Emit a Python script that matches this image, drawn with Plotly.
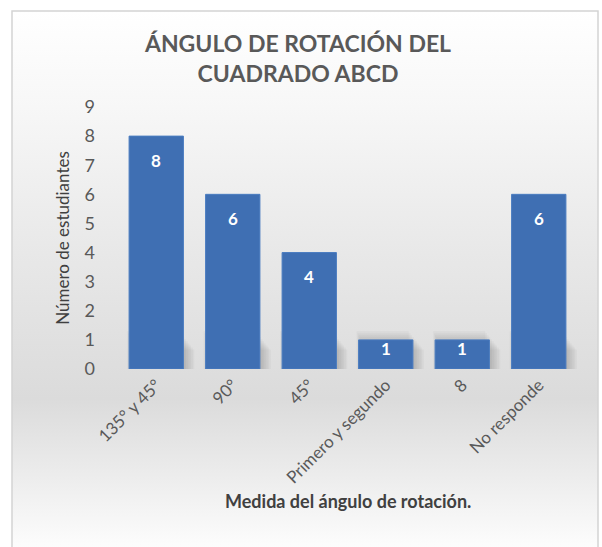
import base64
import plotly.graph_objects as go

# Survey results: measured rotation angle of square ABCD
categories = ["135° y 45°", "90°", "45°", "Primero y segundo", "8", "No responde"]
students = [8, 6, 4, 1, 1, 6]
y_ticks = list(range(0, 10))

chart_title = "ÁNGULO DE ROTACIÓN DEL<br>CUADRADO ABCD"
x_title = "Medida del ángulo de rotación."
y_title = "Número de estudiantes"

W, H = 602, 547
ML, MR, MT, MB = 118, 25, 107, 178
PW, PH = W - ML - MR, H - MT - MB

BAR_COLOR = "#3f6fb3"
TEXT_GRAY = "#595959"
FONT = "Lato"


def px_to_paper_x(px):
    return (px - ML) / PW


def px_to_paper_y(py):
    return (H - MB - py) / PH


# soft vertical gradient for the chart area background
stops = [(0, "#ffffff"), (0.18, "#f7f7f7"), (0.45, "#e8e8e8"),
         (0.72, "#dbdbdb"), (0.87, "#ededed"), (1.0, "#fdfdfd")]
stop_xml = "".join(f'<stop offset="{o}" stop-color="{c}"/>' for o, c in stops)
svg = ('<svg xmlns="http://www.w3.org/2000/svg" width="100" height="100" '
       'viewBox="0 0 100 100" preserveAspectRatio="none"><defs>'
       '<linearGradient id="g" x1="0" y1="0" x2="0" y2="1">' + stop_xml +
       '</linearGradient></defs><rect width="100" height="100" fill="url(#g)"/></svg>')
bg_src = "data:image/svg+xml;base64," + base64.b64encode(svg.encode()).decode()

box_x0, box_x1 = px_to_paper_x(12), px_to_paper_x(598)
box_y1, box_y0 = px_to_paper_y(11), px_to_paper_y(H + 2)

fig = go.Figure()
fig.add_trace(go.Bar(
    x=categories,
    y=students,
    marker=dict(color=BAR_COLOR, line=dict(color="#4a7cc0", width=1)),
    width=0.71,
    hoverinfo="x+y",
))

# value labels inside the top of each bar
annotations = []
for i, v in enumerate(students):
    annotations.append(dict(
        x=i, y=v, xref="x", yref="y", text=f"<b>{v}</b>", showarrow=False,
        yanchor="middle", yshift=-24 if v > 1 else -9,
        font=dict(family=FONT, size=17, color="white"),
    ))

# horizontal axis title, placed below the slanted category labels
annotations.append(dict(
    x=0.5, y=px_to_paper_y(501), xref="paper", yref="paper",
    text=f"<b>{x_title}</b>", showarrow=False,
    xanchor="center", yanchor="middle",
    font=dict(family=FONT, size=18, color="#404040"),
))

# blurred cast shadow at the foot of each bar
shapes = []
for i, v in enumerate(students):
    top = min(v, 1.0) + 0.3
    for k in range(10):
        shapes.append(dict(
            type="rect", xref="x", yref="y", layer="below",
            x0=i - 0.38 + 0.012 * k, x1=i + 0.30 + 0.022 * k,
            y0=0, y1=top - 0.07 * k,
            fillcolor="rgba(80,80,80,0.042)", line=dict(width=0),
        ))

# outer frame of the chart
shapes.append(dict(
    type="rect", xref="paper", yref="paper",
    x0=box_x0, x1=box_x1, y0=box_y0, y1=box_y1,
    line=dict(color="#d4d4d4", width=1.5), fillcolor="rgba(0,0,0,0)",
))

fig.update_layout(
    width=W, height=H,
    margin=dict(l=ML, r=MR, t=MT, b=MB, autoexpand=False),
    paper_bgcolor="white",
    plot_bgcolor="rgba(0,0,0,0)",
    showlegend=False,
    title=dict(
        text=f"<b>{chart_title}</b>", x=(298 / W), xanchor="center",
        y=1 - 52 / H, yanchor="middle",
        font=dict(family=FONT, size=23, color=TEXT_GRAY),
    ),
    images=[dict(
        source=bg_src, xref="paper", yref="paper",
        x=box_x0, y=box_y1, sizex=box_x1 - box_x0, sizey=box_y1 - box_y0,
        xanchor="left", yanchor="top", sizing="stretch", layer="below",
    )],
    shapes=shapes,
    annotations=annotations,
    xaxis=dict(
        type="category", range=[-0.5, len(categories) - 0.5],
        tickangle=-45, showgrid=False, showline=False, zeroline=False,
        ticks="", ticklabelstandoff=2,
        tickfont=dict(family=FONT, size=17, color=TEXT_GRAY),
    ),
    yaxis=dict(
        range=[0, 9], tickvals=y_ticks, showgrid=False, showline=False,
        zeroline=False, ticks="", ticklabelstandoff=22,
        tickfont=dict(family=FONT, size=18, color=TEXT_GRAY),
        title=dict(text=y_title, standoff=10,
                   font=dict(family=FONT, size=17, color="#404040")),
    ),
)

fig.write_html("out.html")
